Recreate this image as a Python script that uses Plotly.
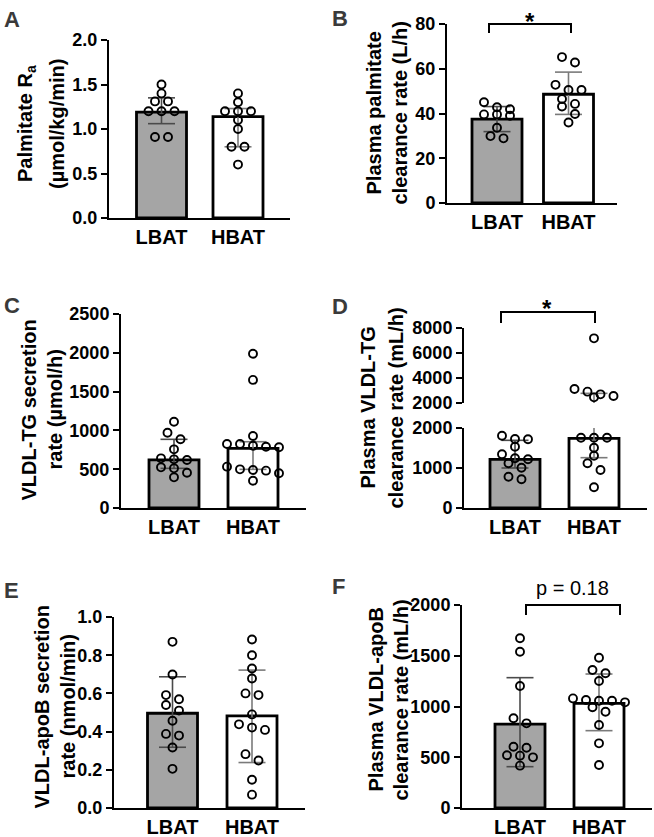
import plotly.graph_objects as go

W, H = 654, 837
FONT = "Liberation Sans, Arial, Helvetica, sans-serif"

groups = ["LBAT", "HBAT"]

# ---------------- data ----------------
# A: Palmitate Ra (µmol/kg/min)
a_lbat = [1.50, 1.40, 1.31, 1.31, 1.20, 1.20, 1.20, 0.91, 0.91]
a_hbat = [1.40, 1.30, 1.20, 1.20, 1.20, 1.10, 1.00, 0.80, 0.80, 0.60]
a_bar = [1.19, 1.14]
a_err_lo = [1.06, 0.80]
a_err_hi = [1.35, 1.23]
a_ticks = [0.0, 0.5, 1.0, 1.5, 2.0]

# B: Plasma palmitate clearance rate (L/h)
b_lbat = [45.0, 42.8, 41.9, 39.6, 39.6, 39.0, 33.6, 29.9, 28.9]
b_hbat = [65.2, 62.8, 52.8, 50.5, 50.5, 46.5, 44.3, 43.1, 39.8, 36.0]
b_bar = [37.5, 48.6]
b_err_lo = [31.9, 39.6]
b_err_hi = [43.1, 58.5]
b_ticks = [0, 20, 40, 60, 80]

# C: VLDL-TG secretion rate (µmol/h)
c_lbat = [1112, 970, 885, 756, 640, 627, 619, 524, 511, 455, 395]
c_hbat = [1987, 1651, 928, 825, 825, 803, 790, 782, 533, 498, 490, 481, 447, 352]
c_bar = [619, 769]
c_err_lo = [511, 498]
c_err_hi = [885, 854]
c_ticks = [0, 500, 1000, 1500, 2000, 2500]

# D: Plasma VLDL-TG clearance rate (mL/h), broken axis
d_lbat = [1808, 1725, 1717, 1533, 1342, 1242, 1217, 1117, 1008, 783, 717]
d_hbat = [7173, 3120, 2907, 2693, 2560, 2453, 1758, 1758, 1758, 1508, 1308, 1117, 950, 517]
d_bar = [1217, 1742]
d_err_lo = [1000, 1258]
d_err_hi = [1692, 2773]
d_ticks_low = [0, 1000, 2000]
d_ticks_high = [2000, 4000, 6000, 8000]

# E: VLDL-apoB secretion rate (nmol/min)
e_lbat = [0.870, 0.699, 0.591, 0.569, 0.539, 0.510, 0.457, 0.388, 0.379, 0.317, 0.205]
e_hbat = [0.882, 0.800, 0.730, 0.678, 0.600, 0.591, 0.490, 0.438, 0.421, 0.409, 0.282, 0.249, 0.148, 0.070]
e_bar = [0.496, 0.482]
e_err_lo = [0.318, 0.238]
e_err_hi = [0.687, 0.722]
e_ticks = [0.0, 0.2, 0.4, 0.6, 0.8, 1.0]

# F: Plasma VLDL-apoB clearance rate (mL/h)
f_lbat = [1672, 1540, 1202, 884, 834, 604, 594, 519, 516, 499, 417]
f_hbat = [1481, 1360, 1327, 1251, 1080, 1064, 1057, 1057, 1041, 992, 949, 818, 637, 424]
f_bar = [827, 1031]
f_err_lo = [407, 762]
f_err_hi = [1284, 1320]
f_ticks = [0, 500, 1000, 1500, 2000]

# ---------------- helpers ----------------
def px(x):
    return x / W


def py(y):
    return 1 - y / H


def swarm(values, c, sp, to_px, thr=7.5, step=13.0):
    order = sorted(range(len(values)), key=lambda i: -values[i])
    rows = []
    for i in order:
        if rows and abs(to_px(values[i]) - to_px(values[rows[-1][0]])) < thr:
            rows[-1].append(i)
        else:
            rows.append([i])
    xs = [0.0] * len(values)
    for row in rows:
        n = len(row)
        for k, i in enumerate(row):
            xs[i] = c + (k - (n - 1) / 2) * step / sp
    return xs


fig = go.Figure()
layout = {}

axis_common = dict(
    showline=True, linecolor="black", linewidth=2, showgrid=False, zeroline=False,
    fixedrange=True, automargin=False,
)
YTICKFONT = dict(family=FONT, size=18, color="black", weight="bold")
XTICKFONT = dict(family=FONT, size=20, color="black", weight="bold")

BAR_COLORS = ["#a5a5a5", "#ffffff"]
ERR_COLORS = ["#4a4a4a", "#7a7a7a"]

# panel geometry (pixels)
panels = [
    dict(key="A", n=1, left=109, right=290, top=40, bottom=218, c0=161.5, sp=76.5,
         yr=[0, 2.0], ticks=a_ticks, fmt=".1f",
         data=[a_lbat, a_hbat], bar=a_bar, lo=a_err_lo, hi=a_err_hi),
    dict(key="B", n=2, left=447, right=617, top=24, bottom=203, c0=497, sp=71.5,
         yr=[0, 80], ticks=b_ticks, fmt="d",
         data=[b_lbat, b_hbat], bar=b_bar, lo=b_err_lo, hi=b_err_hi),
    dict(key="C", n=3, left=121, right=306, top=314, bottom=508, c0=174, sp=79,
         yr=[0, 2500], ticks=c_ticks, fmt="d",
         data=[c_lbat, c_hbat], bar=c_bar, lo=c_err_lo, hi=c_err_hi),
    dict(key="D", n=4, left=464, right=647, top=428, bottom=508, c0=515, sp=79,
         yr=[0, 2000], ticks=d_ticks_low, fmt="d",
         data=[d_lbat, d_hbat], bar=d_bar, lo=d_err_lo, hi=d_err_hi),
    dict(key="E", n=5, left=114, right=305, top=617, bottom=808, c0=172.5, sp=79.5,
         yr=[0, 1.0], ticks=e_ticks, fmt=".1f",
         data=[e_lbat, e_hbat], bar=e_bar, lo=e_err_lo, hi=e_err_hi),
    dict(key="F", n=6, left=462, right=652, top=605, bottom=808, c0=520, sp=79,
         yr=[0, 2000], ticks=f_ticks, fmt="d",
         data=[f_lbat, f_hbat], bar=f_bar, lo=f_err_lo, hi=f_err_hi),
]

# D upper segment geometry
D_UP_TOP, D_UP_BOT = 328, 403
D_UP_RANGE = [2000, 8000]

for p in panels:
    n = p["n"]
    xs = "x" if n == 1 else f"x{n}"
    ys = "y" if n == 1 else f"y{n}"
    xr = [(p["left"] - p["c0"]) / p["sp"], (p["right"] - p["c0"]) / p["sp"]]
    bw = 50 / p["sp"]
    layout[f"xaxis{'' if n == 1 else n}"] = dict(
        axis_common, domain=[px(p["left"]), px(p["right"])], range=xr, anchor=ys,
        tickvals=[0, 1], ticktext=groups, ticks="", tickfont=XTICKFONT,
    )
    layout[f"yaxis{'' if n == 1 else n}"] = dict(
        axis_common, domain=[py(p["bottom"]), py(p["top"])], range=p["yr"], anchor=xs,
        tickvals=p["ticks"], tickformat=p["fmt"], ticks="outside", ticklen=6,
        tickwidth=2, tickcolor="black", tickfont=YTICKFONT,
    )

    fig.add_trace(go.Bar(
        x=[0, 1], y=p["bar"], width=bw, xaxis=xs, yaxis=ys,
        marker=dict(color=BAR_COLORS, line=dict(color="black", width=2.8)),
        showlegend=False, hoverinfo="skip",
    ))

    if p["key"] == "D":
        up_scale = (D_UP_BOT - D_UP_TOP) / (D_UP_RANGE[1] - D_UP_RANGE[0])
        lo_scale = (p["bottom"] - p["top"]) / (p["yr"][1] - p["yr"][0])
        gap = p["top"] - D_UP_BOT

        def to_px(v, lo_scale=lo_scale, up_scale=up_scale, gap=gap):
            if v <= 2000:
                return -v * lo_scale
            return -2000 * lo_scale - gap - (v - 2000) * up_scale
    else:
        sc = (p["bottom"] - p["top"]) / (p["yr"][1] - p["yr"][0])

        def to_px(v, sc=sc):
            return -v * sc

    cw = 13.5 / p["sp"]
    axes_pairs = [(xs, ys)]
    if p["key"] == "D":
        axes_pairs.append(("x7", "y7"))
    for g in range(2):
        lo, hi = p["lo"][g], p["hi"][g]
        for (ax, ay) in axes_pairs:
            fig.add_trace(go.Scatter(
                x=[g, g, None, g - cw, g + cw, None, g - cw, g + cw],
                y=[lo, hi, None, hi, hi, None, lo, lo],
                mode="lines", line=dict(color=ERR_COLORS[g], width=1.6),
                xaxis=ax, yaxis=ay, showlegend=False, hoverinfo="skip",
            ))

    for g in range(2):
        vals = p["data"][g]
        xpos = swarm(vals, g, p["sp"], to_px)
        if p["key"] == "D":
            low_x = [x for x, v in zip(xpos, vals) if v <= 2000]
            low_v = [v for v in vals if v <= 2000]
            up_x = [x for x, v in zip(xpos, vals) if v > 2000]
            up_v = [v for v in vals if v > 2000]
            sets = [(low_x, low_v, xs, ys), (up_x, up_v, "x7", "y7")]
        else:
            sets = [(xpos, vals, xs, ys)]
        for (xx, vv, ax, ay) in sets:
            fig.add_trace(go.Scatter(
                x=xx, y=vv, mode="markers", xaxis=ax, yaxis=ay, cliponaxis=False,
                marker=dict(symbol="circle", size=8, color="rgba(0,0,0,0)",
                            line=dict(color="black", width=1.9)),
                showlegend=False, hoverinfo="skip",
            ))

# D upper axis
pD = panels[3]
layout["xaxis7"] = dict(
    domain=[px(pD["left"]), px(pD["right"])],
    range=[(pD["left"] - pD["c0"]) / pD["sp"], (pD["right"] - pD["c0"]) / pD["sp"]],
    anchor="y7", visible=False, fixedrange=True, automargin=False,
)
layout["yaxis7"] = dict(
    axis_common, domain=[py(D_UP_BOT), py(D_UP_TOP)], range=D_UP_RANGE, anchor="x7",
    tickvals=d_ticks_high, tickformat="d", ticks="outside", ticklen=6,
    tickwidth=2, tickcolor="black", tickfont=YTICKFONT,
)

# ---------------- annotations ----------------
ann = []
letters = [("A", 2, 5), ("B", 330, 4), ("C", 2, 291), ("D", 330, 292), ("E", 2, 576), ("F", 330, 572)]
for t, x, y in letters:
    ann.append(dict(text=t, x=px(x), y=py(y), xref="paper", yref="paper",
                    xanchor="left", yanchor="top", showarrow=False,
                    font=dict(family=FONT, size=22, color="#3a3a3a", weight="bold")))

titles = [
    ("Palmitate R<sub>a</sub>", 26, 124), ("(µmol/kg/min)", 57, 124),
    ("Plasma palmitate", 373.5, 113), ("clearance rate (L/h)", 399.5, 113),
    ("VLDL-TG secretion", 28.5, 410), ("rate (µmol/h)", 54.5, 410),
    ("Plasma VLDL-TG", 367.5, 408), ("clearance rate (mL/h)", 395.5, 408),
    ("VLDL-apoB secretion", 41.5, 707), ("rate (nmol/min)", 67.5, 707),
    ("Plasma VLDL-apoB", 375.5, 700), ("clearance rate (mL/h)", 400.5, 700),
]
for t, x, y in titles:
    ann.append(dict(text=t, x=px(x), y=py(y), xref="paper", yref="paper",
                    xanchor="center", yanchor="middle", textangle=-90, showarrow=False,
                    font=dict(family=FONT, size=20, color="black", weight="bold")))

# significance brackets: (x0, x1, top, leg bottom, label, label x, label box centre y, star?)
shapes = []
brackets = [
    (489, 571, 24, 33, "*", 530, 21, True),
    (501, 595, 312, 323, "*", 547, 308, True),
    (526, 620, 605, 615, "p = 0.18", 572, 588, False),
]
for x0, x1, yt, yb, txt, tx, ty, bold in brackets:
    shapes.append(dict(
        type="path", xref="paper", yref="paper",
        path=f"M {px(x0)} {py(yb)} L {px(x0)} {py(yt)} L {px(x1)} {py(yt)} L {px(x1)} {py(yb)}",
        line=dict(color="black", width=2),
    ))
    ann.append(dict(text=txt, x=px(tx), y=py(ty), xref="paper", yref="paper",
                    xanchor="center", yanchor="middle", showarrow=False,
                    font=dict(family=FONT, size=24 if bold else 20, color="black",
                              weight="bold" if bold else "normal")))

fig.update_layout(
    template="none",
    width=W, height=H, margin=dict(l=0, r=0, t=0, b=0, pad=0, autoexpand=False),
    paper_bgcolor="white", plot_bgcolor="white",
    annotations=ann, shapes=shapes, showlegend=False, barmode="overlay",
    font=dict(family=FONT, color="black"),
    **layout,
)

fig.write_html(
    "out.html",
    config={"displayModeBar": False},
    post_script="document.body.style.margin='0px';document.body.style.padding='0px';",
)
